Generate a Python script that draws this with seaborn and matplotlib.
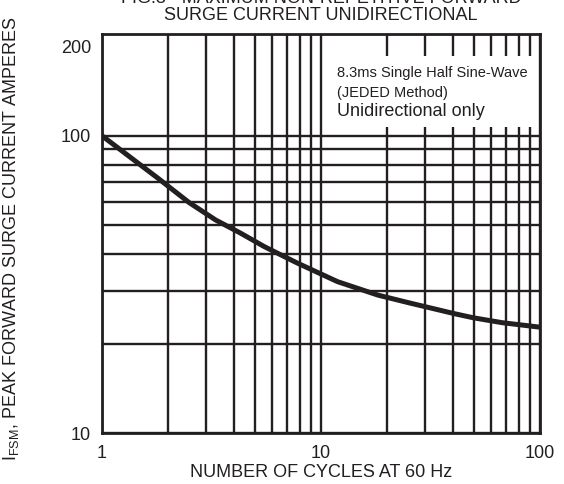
import matplotlib
matplotlib.use("Agg")
import matplotlib.pyplot as plt
import matplotlib.ticker as mticker
from matplotlib.patches import Rectangle
import seaborn as sns
import pandas as pd

# curve
cycles = [1, 1.8, 2.5, 3.3, 4.3, 5.5, 7.8, 11.9, 18.2, 25.3, 40.7, 49.8, 67.3, 100]
amps = [100, 72, 59.6, 52.1, 47.0, 42.4, 37.3, 32.3, 29.1, 27.4, 25.2, 24.4, 23.5, 22.7]

x_ticks = [1, 10, 100]
y_ticks = [10, 100, 200]
y_minor = [20, 30, 40, 50, 60, 70, 80, 90]

title_lines = ["FIG.3 - MAXIMUM NON-REPETITIVE FORWARD", "SURGE CURRENT UNIDIRECTIONAL"]
note_lines = ["8.3ms Single Half Sine-Wave", "(JEDED Method)", "Unidirectional only"]

ink = "#231f20"

sns.set_style("white")
plt.rcParams["font.family"] = ["Liberation Sans", "DejaVu Sans"]

df = pd.DataFrame({"cycles": cycles, "amps": amps})

fig = plt.figure(figsize=(5.64, 4.84), dpi=100)
ax = fig.add_axes([102 / 564, 51 / 484, 438 / 564, 399 / 484])

sns.lineplot(data=df, x="cycles", y="amps", ax=ax, color=ink, lw=3.6, zorder=3)

ax.set_xscale("log")
ax.set_yscale("log")
ax.set_xlim(1, 100)
ax.set_ylim(10, 220)

ax.xaxis.set_major_locator(mticker.FixedLocator(x_ticks))
ax.xaxis.set_minor_locator(mticker.LogLocator(base=10, subs=range(2, 10)))
ax.xaxis.set_minor_formatter(mticker.NullFormatter())
ax.set_xticklabels([str(v) for v in x_ticks])

ax.yaxis.set_major_locator(mticker.FixedLocator(y_ticks))
ax.yaxis.set_minor_locator(mticker.FixedLocator(y_minor))
ax.yaxis.set_minor_formatter(mticker.NullFormatter())
ax.set_yticklabels([str(v) for v in y_ticks])

ax.grid(True, which="both", color=ink, lw=1.7)
# no horizontal line at 200, only the frame on top
ax.get_ygridlines()[-1].set_visible(False)
ax.tick_params(which="both", length=0)
ax.tick_params(axis="x", pad=9, labelsize=13, colors=ink)
ax.tick_params(axis="y", pad=8, labelsize=13, colors=ink)

for s in ax.spines.values():
    s.set_color(ink)
    s.set_linewidth(2.0)
    s.set_zorder(4)

# white box behind the test conditions note
ax.add_patch(Rectangle((0.52, 0.767), 0.471, 0.178, transform=ax.transAxes,
                       facecolor="white", edgecolor="none", zorder=2))
ax.text(0.537, 0.902, note_lines[0], transform=ax.transAxes, fontsize=10.5,
        color=ink, va="center", ha="left", zorder=3)
ax.text(0.537, 0.852, note_lines[1], transform=ax.transAxes, fontsize=10.5,
        color=ink, va="center", ha="left", zorder=3)
ax.text(0.537, 0.806, note_lines[2], transform=ax.transAxes, fontsize=13,
        color=ink, va="center", ha="left", zorder=3)

ax.set_title("\n".join(title_lines), fontsize=13, color=ink, linespacing=1.0, pad=10)
ax.set_xlabel("NUMBER OF CYCLES AT 60 Hz", fontsize=13, color=ink, labelpad=1)
ax.set_ylabel(r"I$\mathregular{_{FSM}}$, PEAK FORWARD SURGE CURRENT AMPERES",
              fontsize=13, color=ink)
ax.yaxis.set_label_coords(-0.185, 0.486)

fig.savefig("out.png", dpi=100, facecolor="white")
